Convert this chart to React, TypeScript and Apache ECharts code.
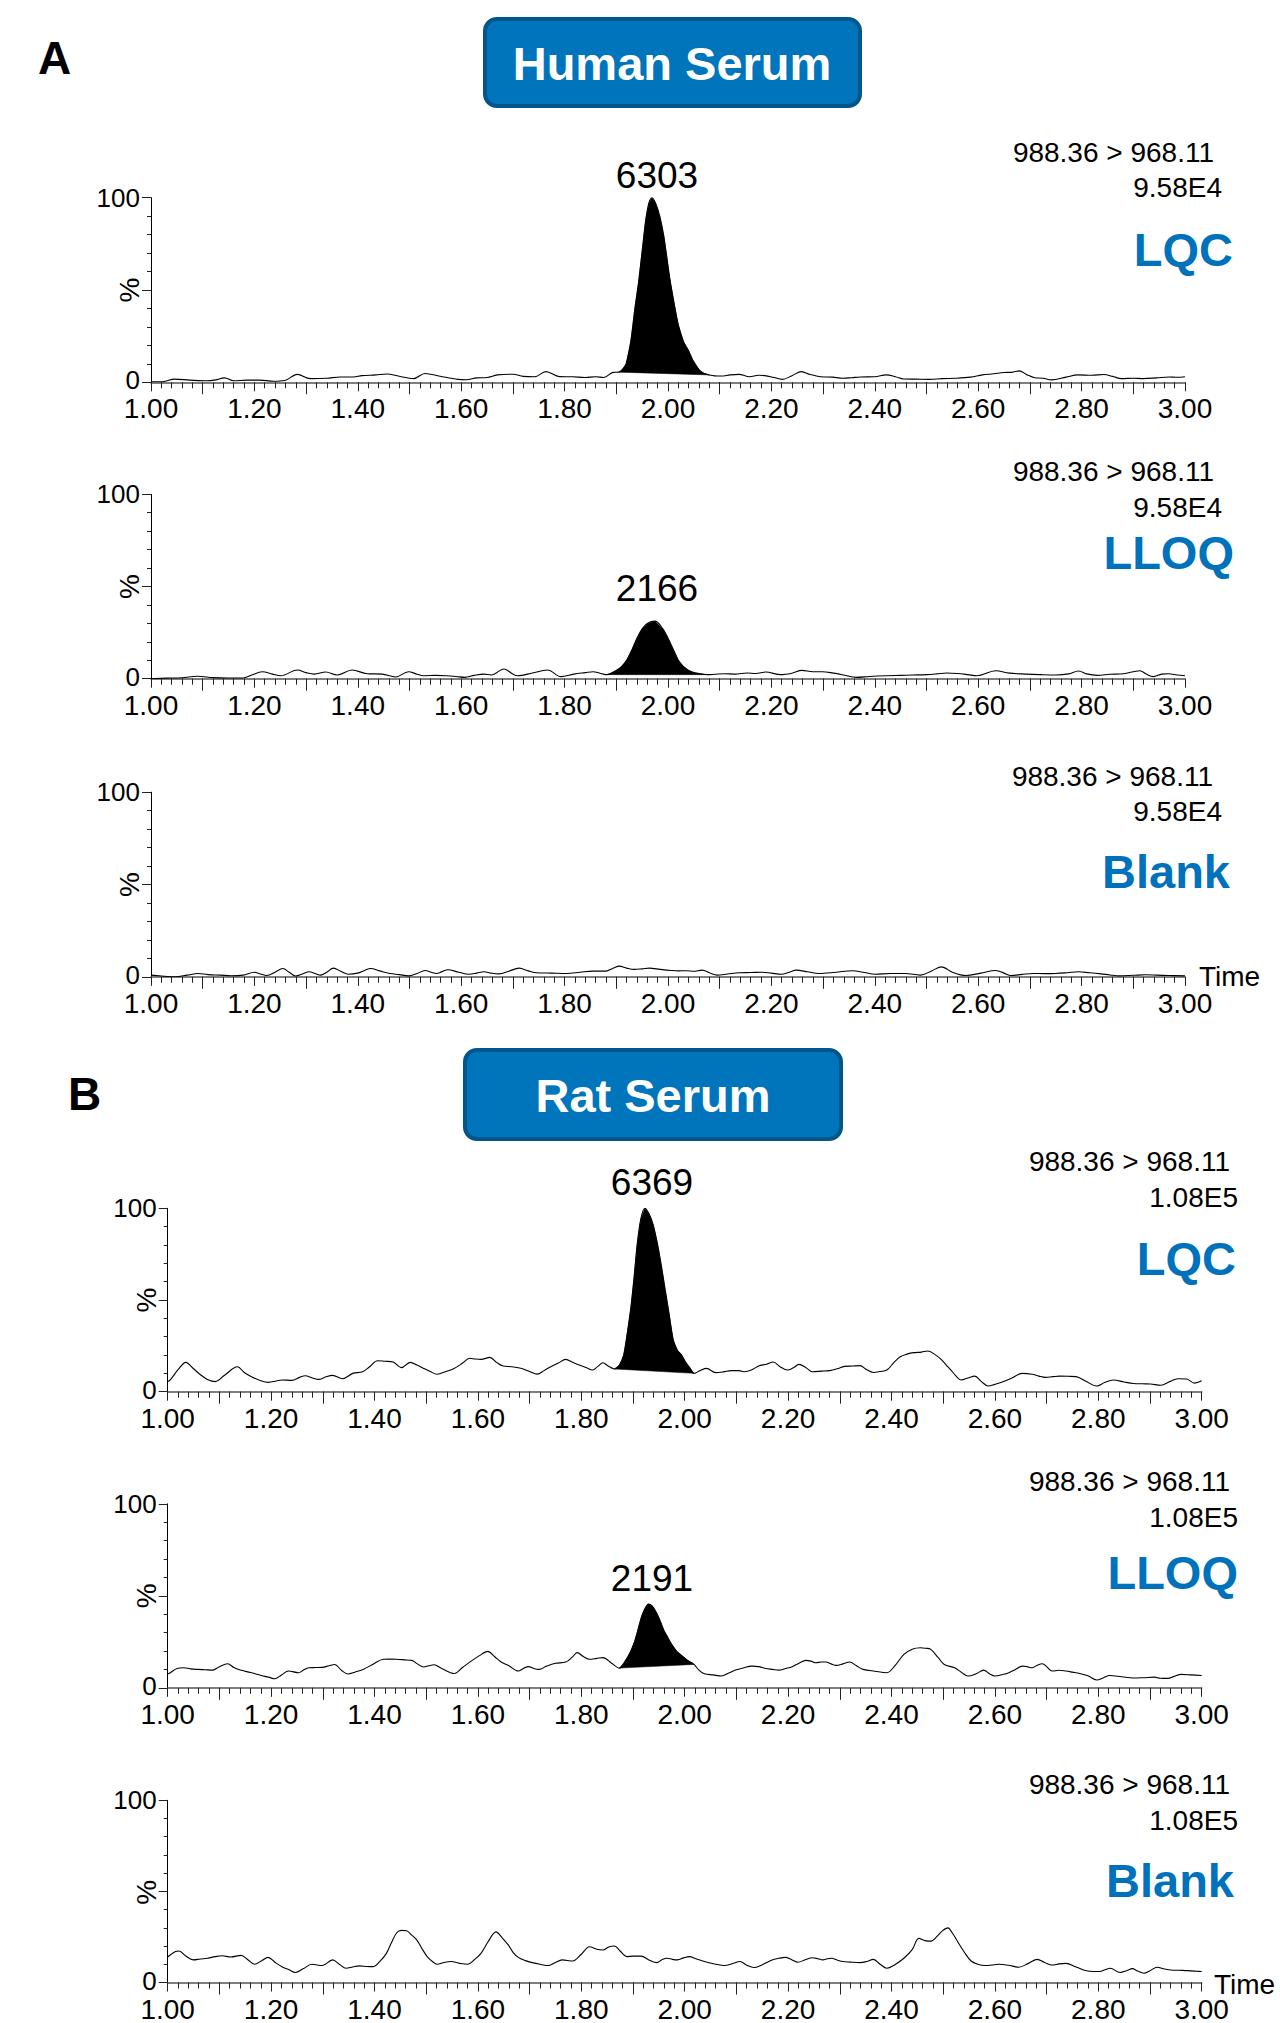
import React, { useEffect, useRef } from "react";
import * as echarts from "echarts";

type Pt = [number, number];

// ---------------- DATA ----------------
const TRANSITION = "988.36 > 968.11";
const SCALE_HUMAN = "9.58E4";
const SCALE_RAT = "1.08E5";
const TAGS = ["LQC", "LLOQ", "Blank", "LQC", "LLOQ", "Blank"];
const PEAK_AREAS = ["6303", "2166", "", "6369", "2191", ""];
const ODD_TENTHS = [1.1, 1.3, 1.5, 1.7, 1.9, 2.1, 2.3, 2.5, 2.7, 2.9];

const A_LQC: Pt[] = [
  [1.0, 0.3], [1.02, 0.3], [1.046, 1.7], [1.075, 1.2], [1.108, 0.8], [1.125, 1.3], [1.142, 2.4], [1.16, 0.8],
  [1.185, 1.2], [1.21, 1.2], [1.237, 0.6], [1.259, 1.0], [1.283, 4.3], [1.308, 2.0], [1.34, 2.2], [1.366, 2.9],
  [1.391, 2.9], [1.408, 3.6], [1.435, 4.0], [1.456, 4.5], [1.48, 3.3], [1.508, 2.0], [1.53, 4.8], [1.559, 3.3],
  [1.594, 1.6], [1.61, 1.4], [1.63, 2.4], [1.65, 2.6], [1.67, 4.0], [1.70, 4.4], [1.72, 3.2], [1.742, 3.0],
  [1.764, 5.8], [1.79, 3.1], [1.815, 3.0], [1.84, 2.6], [1.86, 3.0], [1.876, 2.6], [1.894, 5.4], [1.905, 5.5],
  [1.912, 7], [1.919, 10], [1.928, 22], [1.936, 40], [1.943, 54], [1.950, 71], [1.957, 88], [1.963, 97],
  [1.969, 100], [1.976, 97], [1.984, 90], [1.992, 79], [2.003, 57], [2.011, 44], [2.02, 31], [2.03, 22],
  [2.04, 17], [2.048, 12], [2.061, 6.5], [2.07, 4.8], [2.08, 4.0],
  [2.09, 3.5], [2.103, 3.4], [2.12, 4.0], [2.137, 4.3], [2.158, 3.0], [2.175, 3.8], [2.187, 3.6], [2.205, 2.6],
  [2.221, 1.6], [2.24, 3.6], [2.258, 5.8], [2.275, 4.2], [2.296, 3.0], [2.318, 2.8], [2.338, 2.2], [2.355, 2.5],
  [2.372, 2.9], [2.40, 3.0], [2.422, 4.0], [2.44, 3.0], [2.456, 1.8], [2.48, 1.7], [2.506, 1.6], [2.53, 2.0],
  [2.557, 2.2], [2.585, 2.8], [2.608, 4.0], [2.63, 4.6], [2.65, 5.3], [2.665, 5.4], [2.679, 6.2], [2.695, 4.0],
  [2.709, 2.5], [2.725, 2.2], [2.742, 1.3], [2.77, 2.8], [2.793, 4.0], [2.82, 3.8], [2.843, 4.2], [2.86, 3.2],
  [2.877, 2.0], [2.90, 2.2], [2.919, 2.0], [2.945, 2.4], [2.969, 2.9], [2.985, 2.7], [3.0, 3.0],
];
const A_LQC_PEAK: Pt = [1.905, 2.08];

const A_LLOQ: Pt[] = [
  [1.0, 0], [1.03, 0.3], [1.06, 0.5], [1.09, 1.3], [1.12, 0.6], [1.15, 0.4], [1.178, 0.4], [1.195, 2.0],
  [1.215, 3.8], [1.235, 2.5], [1.251, 1.6], [1.283, 4.7], [1.30, 3.3], [1.316, 2.5], [1.338, 3.6], [1.36, 2.0],
  [1.389, 4.7], [1.418, 2.7], [1.447, 2.5], [1.473, 0.9], [1.498, 3.8], [1.515, 2.4], [1.527, 1.6], [1.55, 1.8],
  [1.571, 1.6], [1.59, 1.2], [1.607, 0.7], [1.625, 1.8], [1.644, 2.5], [1.658, 2.0], [1.683, 5.3], [1.70, 2.5],
  [1.709, 1.6], [1.738, 3.1], [1.767, 4.7], [1.793, 1.1], [1.818, 2.5], [1.84, 3.3], [1.855, 3.8], [1.868, 3.0],
  [1.88, 2.2],
  [1.89, 3.0], [1.90, 4.5], [1.91, 6.5], [1.92, 10], [1.93, 15.5], [1.94, 22], [1.95, 27], [1.96, 30],
  [1.975, 31.2], [1.99, 27], [2.0, 22], [2.01, 16], [2.02, 10], [2.03, 6.5], [2.04, 4.5], [2.05, 3.3],
  [2.06, 2.8], [2.077, 2.2],
  [2.09, 2.4], [2.11, 2.7], [2.13, 2.5], [2.153, 3.1], [2.17, 2.8], [2.189, 3.6], [2.218, 2.2], [2.24, 3.0],
  [2.259, 4.5], [2.28, 3.8], [2.299, 3.8], [2.32, 3.0], [2.34, 2.0], [2.364, 0.7], [2.39, 1.2], [2.422, 1.6],
  [2.45, 1.8], [2.473, 2.0], [2.50, 2.2], [2.52, 2.6], [2.539, 3.1], [2.56, 2.8], [2.58, 2.2], [2.597, 1.6],
  [2.634, 4.3], [2.66, 3.0], [2.692, 2.5], [2.72, 2.2], [2.75, 2.0], [2.775, 2.6], [2.794, 4.2], [2.81, 2.6],
  [2.83, 1.8], [2.855, 2.4], [2.881, 2.7], [2.913, 4.3], [2.925, 2.5], [2.939, 1.1], [2.955, 2.5], [2.968, 2.7],
  [2.985, 2.0], [3.0, 1.6],
];
const A_LLOQ_PEAK: Pt = [1.88, 2.077];

const A_BLANK: Pt[] = [
  [1.0, 0.9], [1.02, 0.4], [1.047, 0], [1.07, 0.9], [1.091, 1.8], [1.11, 1.2], [1.134, 0.9], [1.155, 0.6],
  [1.178, 0.9], [1.2, 2.5], [1.212, 1.5], [1.224, 0.7], [1.24, 2.5], [1.255, 4.5], [1.268, 2.3], [1.28, 0.4],
  [1.293, 1.5], [1.306, 2.7], [1.317, 1.8], [1.328, 0.9], [1.34, 2.5], [1.353, 4.7], [1.367, 3.0], [1.382, 1.4],
  [1.40, 2.0], [1.412, 3.3], [1.425, 4.5], [1.442, 3.2], [1.462, 1.8], [1.48, 1.2], [1.498, 0.5], [1.515, 1.8],
  [1.53, 3.4], [1.542, 2.5], [1.552, 1.8], [1.563, 2.8], [1.574, 3.8], [1.595, 2.5], [1.615, 1.4], [1.63, 2.0],
  [1.644, 2.7], [1.658, 2.0], [1.673, 1.6], [1.692, 3.0], [1.712, 4.7], [1.73, 3.2], [1.746, 2.2], [1.775, 2.0],
  [1.804, 1.8], [1.83, 2.5], [1.855, 3.1], [1.868, 3.1], [1.88, 3.1], [1.893, 4.5], [1.906, 5.8], [1.92, 4.7],
  [1.935, 4.0], [1.95, 4.3], [1.964, 4.7], [1.985, 4.0], [2.007, 3.4], [2.02, 3.2], [2.036, 3.3], [2.05, 3.0],
  [2.066, 3.6], [2.08, 2.2], [2.095, 0.9], [2.115, 1.5], [2.138, 2.2], [2.16, 2.3], [2.182, 2.5], [2.2, 2.0],
  [2.219, 1.4], [2.235, 2.5], [2.248, 3.6], [2.27, 2.7], [2.292, 1.8], [2.325, 2.5], [2.357, 3.3], [2.38, 2.3],
  [2.401, 1.4], [2.43, 1.8], [2.459, 1.8], [2.488, 0.9], [2.51, 3.2], [2.529, 5.4], [2.55, 2.5], [2.576, 0.7],
  [2.605, 2.0], [2.634, 3.4], [2.65, 2.0], [2.663, 0.7], [2.685, 1.3], [2.706, 1.8], [2.728, 1.7], [2.75, 1.8],
  [2.772, 2.2], [2.794, 2.7], [2.815, 2.2], [2.837, 1.6], [2.855, 1.0], [2.873, 0.5], [2.9, 0.8], [2.924, 1.1],
  [2.945, 0.9], [2.968, 0.7], [3.0, 0.5],
];

const B_LQC: Pt[] = [
  [1.0, 5.5], [1.005, 6.4], [1.02, 12], [1.035, 16], [1.05, 12.5], [1.064, 9.1], [1.078, 6.5], [1.092, 5.5],
  [1.11, 9], [1.135, 13.6], [1.148, 10.5], [1.162, 8.2], [1.18, 6], [1.195, 5.1], [1.21, 5.8], [1.221, 6.4],
  [1.24, 6.2], [1.255, 7.8], [1.266, 8.7], [1.28, 7.5], [1.292, 6.7], [1.305, 8], [1.319, 8.9], [1.338, 7.1],
  [1.358, 10], [1.377, 10.9], [1.39, 13.5], [1.406, 16.9], [1.42, 16.6], [1.436, 16.2], [1.452, 13.1], [1.469, 16],
  [1.482, 14.5], [1.495, 12.7], [1.508, 11], [1.521, 9.5], [1.538, 11], [1.554, 12.7], [1.57, 15.5], [1.584, 18.2],
  [1.595, 17.8], [1.606, 17.6], [1.623, 18.7], [1.636, 16], [1.649, 14], [1.665, 13.6], [1.685, 12.7], [1.70, 11],
  [1.715, 9.6], [1.728, 11.5], [1.741, 13.6], [1.755, 15.5], [1.77, 17.6], [1.783, 16], [1.796, 14.5], [1.81, 13],
  [1.822, 11.8], [1.832, 13.8], [1.842, 15.8], [1.852, 14], [1.864, 12.4],
  [1.874, 14.5], [1.882, 20], [1.889, 32], [1.896, 46], [1.902, 62], [1.908, 80], [1.915, 94], [1.923, 100],
  [1.931, 97], [1.939, 91], [1.947, 81], [1.954, 70], [1.962, 56], [1.97, 42], [1.978, 28], [1.986, 22.5],
  [1.994, 20], [2.002, 16], [2.01, 13], [2.018, 10],
  [2.03, 11.5], [2.042, 12.7], [2.06, 10.4], [2.075, 10.8], [2.09, 11.5], [2.105, 11.5], [2.116, 10.9], [2.13, 12],
  [2.143, 14], [2.158, 15], [2.171, 16.2], [2.185, 13.5], [2.199, 11.8], [2.21, 13], [2.221, 14.9], [2.235, 13],
  [2.247, 10.9], [2.265, 11.2], [2.28, 11.5], [2.295, 12.5], [2.309, 13.8], [2.325, 14], [2.339, 14.2], [2.352, 12],
  [2.365, 10.5], [2.378, 11], [2.391, 11.8], [2.405, 16], [2.417, 19.1], [2.43, 20.5], [2.443, 21.3], [2.458, 21.6],
  [2.47, 22.2], [2.483, 20.5], [2.496, 17.6], [2.506, 14.5], [2.515, 11.8], [2.525, 8.5], [2.535, 6.4], [2.548, 7.5],
  [2.561, 8.5], [2.574, 5.5], [2.587, 3.1], [2.6, 4], [2.613, 5.1], [2.633, 7.5], [2.653, 10], [2.672, 9.5],
  [2.685, 8.5], [2.698, 7.8], [2.712, 8.2], [2.725, 8.5], [2.742, 8.4], [2.757, 8.2], [2.777, 5.5], [2.797, 3.1],
  [2.812, 5], [2.829, 6.4], [2.85, 5.3], [2.868, 4.5], [2.885, 4.3], [2.901, 4.2], [2.921, 3.5], [2.938, 5.5],
  [2.954, 7.1], [2.971, 6.9], [2.986, 4.7], [3.0, 6],
];
const B_LQC_PEAK: Pt = [1.864, 2.018];

const B_LLOQ: Pt[] = [
  [1.0, 7.5], [1.005, 8.2], [1.018, 10.5], [1.031, 10.9], [1.044, 10.3], [1.057, 10], [1.072, 9.8], [1.087, 9.6],
  [1.1, 11.5], [1.116, 13.1], [1.128, 11], [1.142, 9.5], [1.16, 8.3], [1.181, 6.7], [1.195, 5.8], [1.207, 4.9],
  [1.22, 7], [1.234, 9.1], [1.253, 8.2], [1.262, 9.5], [1.273, 10.9], [1.286, 11], [1.299, 11.1], [1.312, 12],
  [1.323, 12.7], [1.336, 9.5], [1.349, 7.5], [1.362, 8.5], [1.378, 10], [1.397, 12.8], [1.417, 15.5], [1.43, 15.6],
  [1.443, 15.5], [1.458, 15.2], [1.472, 14.9], [1.483, 13], [1.495, 11.3], [1.505, 12], [1.515, 12.5], [1.53, 10.5],
  [1.554, 7.8], [1.57, 11], [1.587, 14.5], [1.603, 17.5], [1.619, 19.8], [1.632, 17], [1.645, 14], [1.66, 12],
  [1.678, 9.1], [1.688, 10.5], [1.698, 11.5], [1.708, 10.5], [1.718, 10], [1.733, 11.8], [1.75, 13.3], [1.77, 14],
  [1.782, 16.5], [1.792, 19.1], [1.804, 17], [1.816, 15.5], [1.83, 16], [1.842, 16.4], [1.858, 13.5], [1.874, 10.7],
  [1.885, 14.5], [1.895, 19.5], [1.903, 25], [1.91, 32], [1.917, 39], [1.923, 43], [1.93, 45.5], [1.937, 44.5],
  [1.945, 41], [1.953, 36], [1.96, 31], [1.966, 28], [1.975, 23.5], [1.984, 20], [1.992, 18], [2.005, 15],
  [2.018, 12.7],
  [2.028, 9.5], [2.038, 7.6], [2.055, 7], [2.071, 6.4], [2.085, 8], [2.097, 9.5], [2.113, 10.8], [2.13, 11.8],
  [2.143, 11.5], [2.156, 10.5], [2.17, 10], [2.182, 9.6], [2.195, 10.5], [2.208, 11.5], [2.222, 13.5], [2.234, 14.9],
  [2.244, 14.5], [2.254, 13.6], [2.264, 14], [2.273, 14], [2.283, 13], [2.293, 12.2], [2.306, 13], [2.319, 14],
  [2.332, 12], [2.345, 10], [2.368, 9], [2.391, 8.2], [2.408, 12.5], [2.424, 18.2], [2.44, 21], [2.456, 21.8],
  [2.466, 21.5], [2.476, 20.9], [2.49, 16.5], [2.502, 12.7], [2.522, 10.9], [2.535, 8.5], [2.548, 6.4], [2.565, 7.8],
  [2.578, 9.6], [2.59, 7.5], [2.6, 6.4], [2.615, 7.2], [2.627, 8.2], [2.64, 10], [2.653, 11.8], [2.662, 11.5],
  [2.672, 10.9], [2.68, 12], [2.692, 13.1], [2.7, 11.5], [2.711, 9.1], [2.724, 9.5], [2.737, 9.1], [2.75, 8.5],
  [2.764, 7.8], [2.78, 6.5], [2.797, 4.2], [2.81, 5.5], [2.822, 6.7], [2.845, 6], [2.868, 5.3], [2.888, 5.5],
  [2.908, 5.8], [2.92, 5.2], [2.934, 5.1], [2.947, 6.2], [2.96, 7.3], [2.98, 7], [3.0, 6.7],
];
const B_LLOQ_PEAK: Pt = [1.874, 2.018];

const B_BLANK: Pt[] = [
  [1.0, 14], [1.005, 15.1], [1.015, 17], [1.022, 17.3], [1.035, 14.5], [1.05, 12.4], [1.063, 12.9], [1.077, 13.3],
  [1.092, 14.2], [1.105, 14.7], [1.122, 14], [1.142, 14.9], [1.155, 12.5], [1.168, 10], [1.182, 12], [1.194, 13.8],
  [1.208, 11], [1.221, 8.7], [1.235, 7], [1.247, 5.5], [1.262, 7.5], [1.279, 10], [1.299, 9.3], [1.319, 12.4],
  [1.332, 10], [1.345, 7.8], [1.358, 8.5], [1.371, 9.1], [1.385, 8.8], [1.397, 8.7], [1.41, 11.5], [1.423, 16],
  [1.433, 22], [1.443, 27.3], [1.452, 28.6], [1.462, 28.4], [1.472, 26], [1.482, 23.3], [1.492, 18.5], [1.502, 14.2],
  [1.512, 11.5], [1.521, 10], [1.535, 11], [1.548, 11.5], [1.565, 10.5], [1.58, 10], [1.593, 12.5], [1.606, 16],
  [1.62, 22.5], [1.635, 27.8], [1.647, 24.5], [1.659, 20.5], [1.668, 16.5], [1.678, 13.8], [1.692, 12], [1.705, 10.9],
  [1.72, 10], [1.737, 9.3], [1.75, 11], [1.763, 12.4], [1.783, 11.8], [1.8, 15.5], [1.816, 19.6], [1.83, 18.2],
  [1.842, 17.8], [1.853, 19.5], [1.864, 20], [1.876, 17], [1.888, 14.2], [1.9, 14.5], [1.916, 14.5], [1.93, 12.5],
  [1.946, 10.9], [1.956, 12.5], [1.966, 13.3], [1.976, 12.7], [1.986, 12.4], [1.998, 13.5], [2.009, 14.2], [2.022, 13],
  [2.038, 11.5], [2.058, 10.2], [2.077, 9.3], [2.092, 10.3], [2.107, 11.5], [2.12, 9.5], [2.134, 8.2], [2.15, 9.8],
  [2.169, 12.4], [2.182, 13.3], [2.195, 13.8], [2.207, 12.5], [2.219, 11.1], [2.233, 12.5], [2.247, 13.6], [2.258, 13],
  [2.267, 12.4], [2.276, 13], [2.284, 13.3], [2.295, 12.3], [2.306, 11.5], [2.32, 11.2], [2.339, 10.9], [2.352, 11.5],
  [2.365, 12.7], [2.378, 10], [2.391, 7.8], [2.405, 9.5], [2.424, 13.3], [2.44, 18], [2.453, 24.2], [2.465, 23],
  [2.476, 22.7], [2.489, 25.6], [2.499, 28.5], [2.509, 30], [2.518, 27], [2.528, 22.4], [2.54, 17], [2.554, 11.8],
  [2.567, 10], [2.581, 9.3], [2.594, 9.6], [2.607, 10], [2.626, 9.5], [2.646, 8.4], [2.665, 10.5], [2.682, 12.7],
  [2.696, 11], [2.711, 9.6], [2.724, 10.2], [2.737, 10.5], [2.757, 8.5], [2.777, 6.4], [2.79, 6], [2.803, 6],
  [2.813, 7], [2.823, 7.8], [2.842, 5.5], [2.855, 6.5], [2.866, 7.6], [2.876, 6.3], [2.888, 5.1], [2.9, 6.5],
  [2.914, 8.4], [2.926, 7.5], [2.94, 6.9], [2.956, 6.7], [2.973, 6.5], [2.99, 6.2], [3.0, 6],
];

const TRACES: Pt[][] = [A_LQC, A_LLOQ, A_BLANK, B_LQC, B_LLOQ, B_BLANK];
const PEAKS: (Pt | null)[] = [A_LQC_PEAK, A_LLOQ_PEAK, null, B_LQC_PEAK, B_LLOQ_PEAK, null];

// ---------------- LAYOUT ----------------
const W = 1280;
const H = 2023;
const FONT = "'Liberation Sans', Arial, Helvetica, sans-serif";
const BLUE = "#0072BC";

const GRIDS = [
  { left: 151, top: 197.7, width: 1034, height: 184.6 },
  { left: 151, top: 494.3, width: 1034, height: 184.4 },
  { left: 151, top: 792.2, width: 1034, height: 184.6 },
  { left: 167.7, top: 1208.3, width: 1034, height: 183.4 },
  { left: 167.7, top: 1503.8, width: 1034, height: 184.0 },
  { left: 167.7, top: 1800.3, width: 1034, height: 184.0 },
];

// per panel text anchors: [line1 right x, line1 y, line2 right x, line2 y, tag right x, tag y, peak x, peak y, pct x]
const ANCH = [
  [1214, 152, 1222, 187, 1233, 249, 657, 175, 129],
  [1214, 471, 1222, 507, 1234, 552, 657, 588, 129],
  [1213, 776, 1222, 811, 1230, 871, 0, 0, 129],
  [1230, 1161, 1238, 1197, 1236, 1258, 652, 1182, 146],
  [1230, 1481, 1238, 1517, 1238, 1572, 652, 1578, 146],
  [1230, 1784, 1238, 1820, 1234, 1880, 0, 0, 146],
];

function txt(text: string, x: number, y: number, size: number, opts: any = {}) {
  const align = opts.align || "left";
  const valign = opts.valign || "middle";
  return {
    type: "text",
    x,
    y,
    rotation: opts.rotation || 0,
    silent: true,
    style: {
      text,
      fill: opts.color || "#000",
      fontSize: size,
      fontWeight: opts.bold ? "bold" : "normal",
      fontFamily: opts.family || FONT,
      align,
      verticalAlign: valign,
      textAlign: align,
      textVerticalAlign: valign,
    },
  };
}

function buildOption() {
  const grid: any[] = [];
  const xAxis: any[] = [];
  const yAxis: any[] = [];
  const series: any[] = [];
  const graphic: any[] = [];

  GRIDS.forEach((g, i) => {
    grid.push({ left: g.left, top: g.top, width: g.width, height: g.height, containLabel: false });
    xAxis.push({
      type: "value",
      gridIndex: i,
      position: "bottom",
      min: 1,
      max: 3,
      interval: 0.2,
      axisLine: { show: true, onZero: false, lineStyle: { color: "#555", width: 1.6 } },
      axisTick: { show: true, length: 9, lineStyle: { color: "#222", width: 1 } },
      minorTick: { show: true, splitNumber: 10, length: 6, lineStyle: { color: "#222", width: 1 } },
      axisLabel: {
        show: true,
        margin: 14,
        fontSize: 28,
        lineHeight: 25,
        fontFamily: FONT,
        color: "#000",
        formatter: (v: number) => v.toFixed(2),
      },
      splitLine: { show: false },
      minorSplitLine: { show: false },
    });
    xAxis.push({
      type: "value",
      gridIndex: i,
      position: "bottom",
      min: 1,
      max: 3,
      interval: 0.1,
      axisLine: { show: false },
      axisTick: { show: true, length: 12, customValues: ODD_TENTHS, lineStyle: { color: "#222", width: 1 } },
      axisLabel: { show: false },
      splitLine: { show: false },
    });
    yAxis.push({
      type: "value",
      gridIndex: i,
      min: 0,
      max: 100,
      interval: 50,
      axisLine: { show: true, lineStyle: { color: "#000", width: 1 } },
      axisTick: { show: true, length: 9, lineStyle: { color: "#222", width: 1 } },
      minorTick: { show: true, splitNumber: 5, length: 4, lineStyle: { color: "#222", width: 1 } },
      axisLabel: {
        show: true,
        margin: 11,
        fontSize: 26,
        lineHeight: 22,
        fontFamily: FONT,
        color: "#000",
        formatter: (v: number) => (v === 50 ? "" : v === 0 ? "{z|0}" : String(v)),
        rich: {
          z: { fontSize: 26, fontFamily: FONT, color: "#000", lineHeight: 22, padding: [0, 0, 4, 0] },
        },
      },
      splitLine: { show: false },
      minorSplitLine: { show: false },
    });

    const trace = TRACES[i];
    const peak = PEAKS[i];
    if (peak) {
      const pts = trace.filter((p) => p[0] >= peak[0] - 1e-9 && p[0] <= peak[1] + 1e-9);
      series.push({
        type: "custom",
        xAxisIndex: i * 2,
        yAxisIndex: i,
        coordinateSystem: "cartesian2d",
        silent: true,
        z: 1,
        data: [pts[0]],
        renderItem: (params: any, api: any) => {
          const poly = pts.map((p) => api.coord(p));
          return {
            type: "polygon",
            shape: { points: poly },
            style: { fill: "#000", stroke: "#000", lineWidth: 0.5 },
          };
        },
      });
    }
    series.push({
      type: "line",
      xAxisIndex: i * 2,
      yAxisIndex: i,
      data: trace,
      showSymbol: false,
      symbol: "none",
      smooth: 0.35,
      silent: true,
      z: 2,
      lineStyle: { color: "#000", width: 1.1 },
    });

    const a = ANCH[i];
    const scale = i < 3 ? SCALE_HUMAN : SCALE_RAT;
    graphic.push(txt(TRANSITION, a[0], a[1], 28, { align: "right" }));
    graphic.push(txt(scale, a[2], a[3], 28, { align: "right" }));
    graphic.push(txt(TAGS[i], a[4], a[5], 47, { align: "right", bold: true, color: BLUE }));
    if (PEAK_AREAS[i]) graphic.push(txt(PEAK_AREAS[i], a[6], a[7], 37, { align: "center" }));
    graphic.push(
      txt("%", a[8], g.top + g.height / 2, 28, { align: "center", rotation: Math.PI / 2 })
    );
  });

  // panel letters and title boxes
  graphic.push(txt("A", 38, 58, 46, { bold: true }));
  graphic.push(txt("B", 68, 1094, 46, { bold: true }));
  graphic.push({
    type: "rect",
    silent: true,
    shape: { x: 485, y: 19, width: 375, height: 87, r: 12 },
    style: { fill: "#0075BB", stroke: "#00568A", lineWidth: 4 },
  });
  graphic.push(txt("Human Serum", 672, 63, 47, { align: "center", bold: true, color: "#fff" }));
  graphic.push({
    type: "rect",
    silent: true,
    shape: { x: 465, y: 1050, width: 376, height: 89, r: 12 },
    style: { fill: "#0075BB", stroke: "#00568A", lineWidth: 4 },
  });
  graphic.push(txt("Rat Serum", 653, 1095, 47, { align: "center", bold: true, color: "#fff" }));
  graphic.push(txt("Time", 1199, 976, 28));
  graphic.push(txt("Time", 1214, 1984, 28));

  return {
    animation: false,
    backgroundColor: "#fff",
    grid,
    xAxis,
    yAxis,
    series,
    graphic: { elements: graphic },
  };
}

export default function App() {
  const ref = useRef<HTMLDivElement>(null);
  useEffect(() => {
    document.body.style.margin = "0";
    if (!ref.current) return;
    const chart = echarts.init(ref.current, undefined, { renderer: "svg", width: W, height: H });
    chart.setOption(buildOption() as any);
    return () => chart.dispose();
  }, []);
  return <div ref={ref} style={{ width: W, height: H, background: "#fff" }} />;
}
